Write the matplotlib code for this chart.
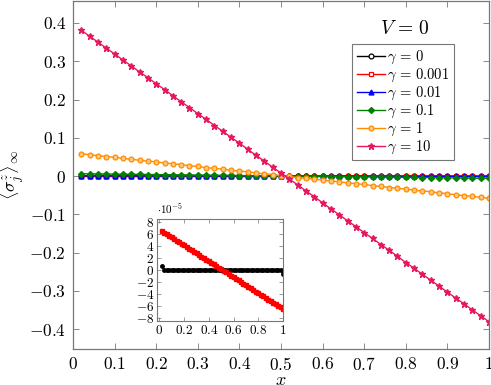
import numpy as np
import matplotlib.pyplot as plt

plt.rcParams['font.family'] = 'serif'
plt.rcParams['font.serif'] = ['cmr10']
plt.rcParams['mathtext.fontset'] = 'cm'
plt.rcParams['axes.formatter.use_mathtext'] = True

# positions j/N, N = 50
x = [0.02, 0.04, 0.06, 0.08, 0.10, 0.12, 0.14, 0.16, 0.18, 0.20,
     0.22, 0.24, 0.26, 0.28, 0.30, 0.32, 0.34, 0.36, 0.38, 0.40,
     0.42, 0.44, 0.46, 0.48, 0.50, 0.52, 0.54, 0.56, 0.58, 0.60,
     0.62, 0.64, 0.66, 0.68, 0.70, 0.72, 0.74, 0.76, 0.78, 0.80,
     0.82, 0.84, 0.86, 0.88, 0.90, 0.92, 0.94, 0.96, 0.98, 1.00]

# gamma = 0 (units of 1e-5)
g0 = [0.7] + [0.0] * 48 + [-0.6]

# gamma = 0.001 (units of 1e-5)
g0001 = [6.50, 6.23, 5.97, 5.70, 5.44, 5.17, 4.91, 4.64, 4.38, 4.11,
         3.85, 3.58, 3.32, 3.05, 2.79, 2.52, 2.26, 1.99, 1.73, 1.46,
         1.19, 0.93, 0.66, 0.40, 0.13, -0.13, -0.40, -0.66, -0.93, -1.19,
         -1.46, -1.73, -1.99, -2.26, -2.52, -2.79, -3.05, -3.32, -3.58, -3.85,
         -4.11, -4.38, -4.64, -4.91, -5.17, -5.44, -5.70, -5.97, -6.23, -6.50]

# gamma = 0.01 (units of 1e-4)
g001 = [6.5, 6.2, 6.0, 5.7, 5.4, 5.2, 4.9, 4.6, 4.4, 4.1,
        3.8, 3.6, 3.3, 3.1, 2.8, 2.5, 2.3, 2.0, 1.7, 1.5,
        1.2, 0.9, 0.7, 0.4, 0.1, -0.1, -0.4, -0.7, -0.9, -1.2,
        -1.5, -1.7, -2.0, -2.3, -2.5, -2.8, -3.1, -3.3, -3.6, -3.8,
        -4.1, -4.4, -4.6, -4.9, -5.2, -5.4, -5.7, -6.0, -6.2, -6.5]

# gamma = 0.1
g01 = [0.0060, 0.0058, 0.0055, 0.0053, 0.0050, 0.0048, 0.0045, 0.0043, 0.0040, 0.0038,
       0.0036, 0.0033, 0.0031, 0.0028, 0.0026, 0.0023, 0.0021, 0.0018, 0.0016, 0.0013,
       0.0011, 0.0009, 0.0006, 0.0004, 0.0001, -0.0001, -0.0004, -0.0006, -0.0009, -0.0011,
       -0.0013, -0.0016, -0.0018, -0.0021, -0.0023, -0.0026, -0.0028, -0.0031, -0.0033, -0.0036,
       -0.0038, -0.0040, -0.0043, -0.0045, -0.0048, -0.0050, -0.0053, -0.0055, -0.0058, -0.0060]

# gamma = 1
g1 = [0.058, 0.056, 0.053, 0.051, 0.049, 0.046, 0.044, 0.041, 0.039, 0.037,
      0.034, 0.032, 0.030, 0.027, 0.025, 0.022, 0.020, 0.018, 0.015, 0.013,
      0.011, 0.008, 0.006, 0.004, 0.001, -0.001, -0.004, -0.006, -0.008, -0.011,
      -0.013, -0.015, -0.018, -0.020, -0.022, -0.025, -0.027, -0.030, -0.032, -0.034,
      -0.037, -0.039, -0.041, -0.044, -0.046, -0.049, -0.051, -0.053, -0.056, -0.058]

# gamma = 10
g10 = [0.381, 0.365, 0.350, 0.334, 0.319, 0.303, 0.288, 0.272, 0.257, 0.241,
       0.226, 0.210, 0.194, 0.179, 0.163, 0.148, 0.132, 0.117, 0.101, 0.086,
       0.070, 0.054, 0.039, 0.023, 0.008, -0.008, -0.023, -0.039, -0.054, -0.070,
       -0.086, -0.101, -0.117, -0.132, -0.148, -0.163, -0.179, -0.194, -0.210, -0.226,
       -0.241, -0.257, -0.272, -0.288, -0.303, -0.319, -0.334, -0.350, -0.365, -0.381]

xticks = [0, 0.1, 0.2, 0.3, 0.4, 0.5, 0.6, 0.7, 0.8, 0.9, 1]
xticklabels = ['0', '0.1', '0.2', '0.3', '0.4', '0.5', '0.6', '0.7', '0.8', '0.9', '1']
yticks = [-0.4, -0.3, -0.2, -0.1, 0, 0.1, 0.2, 0.3, 0.4]
yticklabels = ['-0.4', '-0.3', '-0.2', '-0.1', '0', '0.1', '0.2', '0.3', '0.4']
in_xticks = [0, 0.2, 0.4, 0.6, 0.8, 1]
in_xticklabels = ['0', '0.2', '0.4', '0.6', '0.8', '1']
in_yticks = [-8, -6, -4, -2, 0, 2, 4, 6, 8]

fig = plt.figure(figsize=(4.91, 3.85), dpi=100)
ax = fig.add_axes([0.1487, 0.0935, 0.8472, 0.9035])

x = np.array(x)
ax.plot(x, np.array(g0) * 0, '-o', color='black', mfc='white', ms=3.5, lw=1, mew=0.9, label=r'$\gamma \,=\, 0$')
ax.plot(x, np.array(g0001) * 1e-5, '-s', color='red', mfc='white', ms=3.5, lw=1, mew=0.9, label=r'$\gamma \,=\, 0.001$')
ax.plot(x, np.array(g001) * 1e-4, '-^', color='blue', ms=3.5, lw=1, label=r'$\gamma \,=\, 0.01$')
ax.plot(x, g01, '-D', color='#008000', ms=3, lw=1, label=r'$\gamma \,=\, 0.1$')
ax.plot(x, g1, '-o', color='#ff8c00', mfc='#ffc880', ms=3.5, lw=1, mew=0.9, label=r'$\gamma \,=\, 1$')
ax.plot(x, g10, '-*', color='#e8175d', ms=4.5, lw=1, label=r'$\gamma \,=\, 10$')

ax.set_xlim(0, 1)
ax.set_ylim(-0.452, 0.457)
ax.set_xticks(xticks)
ax.set_xticklabels(['$' + s + '$' for s in xticklabels])
ax.set_yticks(yticks)
ax.set_yticklabels(['$' + s + '$' for s in yticklabels])
ax.tick_params(direction='in', top=True, right=True, length=4, width=0.6,
               color='#777777', labelsize=12.5, pad=5)
for s in ax.spines.values():
    s.set_color('#777777')
    s.set_linewidth(0.9)
ax.set_xlabel(r'$x$', fontsize=13, labelpad=0)
ax.set_ylabel(r'$\langle\sigma_j^z\rangle_\infty$', fontsize=13, labelpad=2)

leg = ax.legend(loc='upper right', bbox_to_anchor=(0.916, 0.876), fontsize=10.5,
                fancybox=False, edgecolor='#777777', framealpha=1,
                handlelength=1.9, handletextpad=0.2, labelspacing=0.04,
                borderpad=0.3, borderaxespad=0)
leg.get_frame().set_linewidth(0.8)
ax.text(0.798, 0.92, r'$V \,=\, 0$', transform=ax.transAxes, fontsize=14,
        ha='center', va='center')

# inset
axi = fig.add_axes([0.3198, 0.166, 0.2566, 0.265])
axi.plot(x, g0, '-o', color='black', ms=2.5, lw=1)
axi.plot(x, g0001, '-s', color='red', ms=3, lw=1)
axi.set_xlim(-0.02, 1.0)
axi.set_ylim(-8.5, 8.5)
axi.set_xticks(in_xticks)
axi.set_xticklabels(['$' + s + '$' for s in in_xticklabels])
axi.set_yticks(in_yticks)
axi.set_yticklabels(['$%d$' % v for v in in_yticks])
axi.tick_params(direction='in', top=True, right=True, length=3, width=0.5,
                color='#777777', labelsize=9.5, pad=2)
for s in axi.spines.values():
    s.set_color('#777777')
    s.set_linewidth(0.8)
axi.text(0.0, 1.03, r'$\cdot 10^{-5}$', transform=axi.transAxes, fontsize=8,
         ha='left', va='bottom')

fig.savefig('out.png', dpi=100)
